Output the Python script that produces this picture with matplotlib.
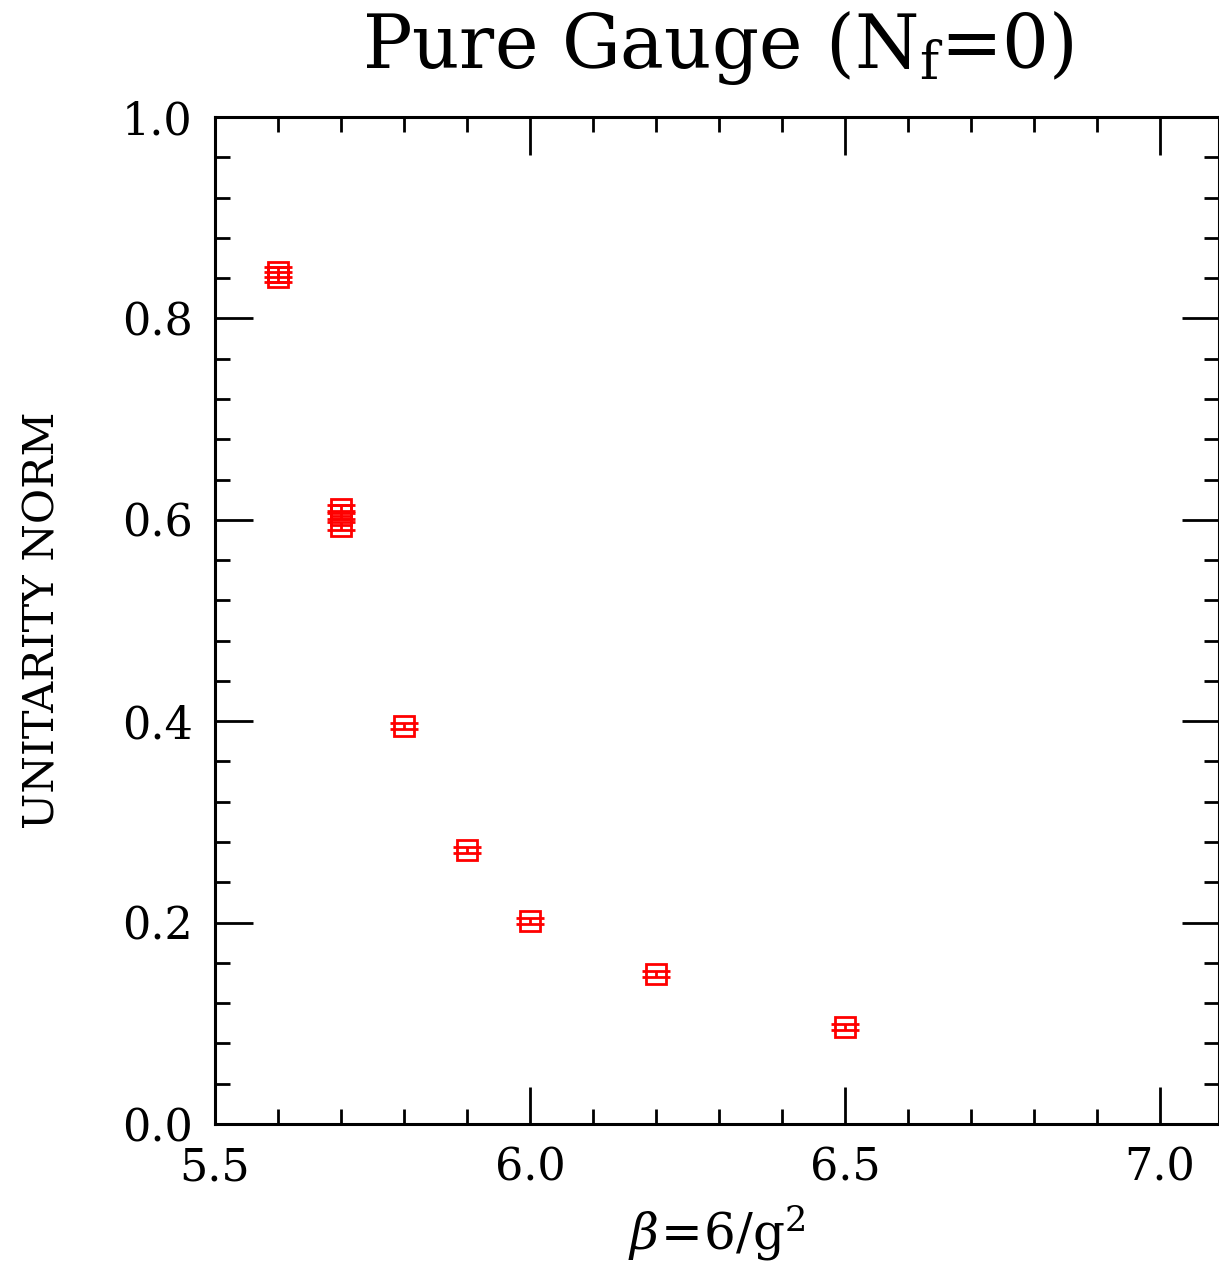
import matplotlib
matplotlib.use("Agg")
import matplotlib.pyplot as plt
from matplotlib.ticker import MultipleLocator

plt.rcParams['font.family'] = ['DejaVu Serif']
plt.rcParams['mathtext.fontset'] = 'dejavuserif'

beta = [5.6, 5.6, 5.7, 5.7, 5.7, 5.8, 5.9, 6.0, 6.2, 6.5]
norm = [0.846, 0.841, 0.611, 0.605, 0.594, 0.395, 0.272, 0.202, 0.149, 0.096]
err = [0.005, 0.005, 0.004, 0.004, 0.004, 0.003, 0.003, 0.003, 0.003, 0.003]

xticks = [5.5, 6.0, 6.5, 7.0]
xticklabels = ['5.5', '6.0', '6.5', '7.0']
yticks = [0.0, 0.2, 0.4, 0.6, 0.8, 1.0]
yticklabels = ['0.0', '0.2', '0.4', '0.6', '0.8', '1.0']

fig = plt.figure(figsize=(12.19, 12.66), dpi=100)
ax = fig.add_axes([215/1219, 142/1266, 1 - 215/1219, (1124-117)/1266])

ax.errorbar(beta, norm, yerr=err, fmt='s', mfc='none', mec='red', color='red',
            ms=15, mew=2, elinewidth=2, capsize=10, capthick=2, ecolor='red')

ax.set_xlim(5.5, 7.094)
ax.set_ylim(0.0, 1.0)
ax.set_xticks(xticks)
ax.set_xticklabels(xticklabels)
ax.set_yticks(yticks)
ax.set_yticklabels(yticklabels)
ax.xaxis.set_minor_locator(MultipleLocator(0.1))
ax.yaxis.set_minor_locator(MultipleLocator(0.04))
ax.tick_params(which='both', direction='in', top=True, right=True, width=2, labelsize=32, pad=16)
ax.tick_params(which='major', length=27)
ax.tick_params(which='minor', length=11)
for s in ax.spines.values():
    s.set_linewidth(2.2)

ax.set_xlabel(r'$\beta\!=\!6/\mathrm{g}^2$', fontsize=36, labelpad=10)
ax.set_ylabel('UNITARITY NORM', fontsize=31, labelpad=42)
fig.text(0.589, 0.962, r'Pure Gauge (N$_\mathrm{f}$=0)', fontsize=53, ha='center', va='center')

fig.savefig('out.png', dpi=100)
